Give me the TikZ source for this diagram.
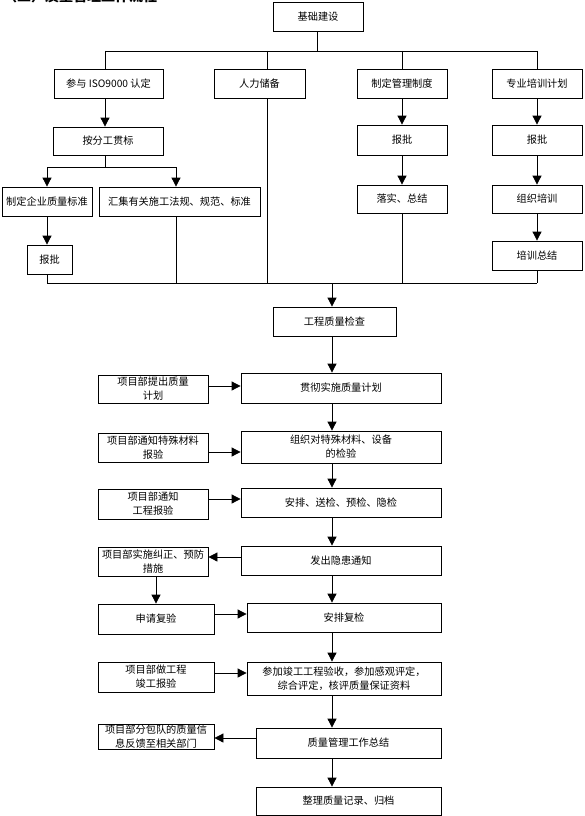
\documentclass[tikz,border=0pt]{standalone}
\usepackage{fontspec}
\newfontfamily\cjk{Noto Sans CJK SC}
\usetikzlibrary{arrows.meta}
\tikzset{
  box/.style={draw, line width=0.8pt, inner sep=0pt, align=center,
    font=\cjk\fontsize{10.2}{14}\selectfont},
  ln/.style={line width=0.8pt},
  arr/.style={line width=0.8pt, -{Triangle[width=9pt,length=9pt]}},
}
\begin{document}
\begin{tikzpicture}[x=1pt,y=-1pt]
\useasboundingbox (0,0) rectangle (585,816);
\fill[white] (0,0) rectangle (585,816);
% header, cut off at the top edge as in the reference
\node[anchor=south west, inner sep=0pt, font=\cjk\bfseries\fontsize{14}{16}\selectfont] (hdr) at (3,3.5) {（二）质量管理工作流程};
% top part
\node[box, minimum width=90, minimum height=29] (top) at (318,16.5) {基础建设};
\node[box, minimum width=109, minimum height=29] (iso) at (108.5,83.5) {参与 ISO9000 认定};
\node[box, minimum width=91, minimum height=29] (rl) at (259.5,83.5) {人力储备};
\node[box, minimum width=90, minimum height=29] (zd) at (402,83.5) {制定管理制度};
\node[box, minimum width=90, minimum height=29] (px) at (537,83.5) {专业培训计划};
\node[box, minimum width=110, minimum height=28] (afg) at (108,141) {按分工贯标};
\node[box, minimum width=90, minimum height=30] (bp2) at (402,140) {报批};
\node[box, minimum width=90, minimum height=30] (bp3) at (537,140) {报批};
\node[box, minimum width=90, minimum height=29] (qb) at (47,201.5) {制定企业质量标准};
\node[box, minimum width=161, minimum height=29] (hj) at (179.5,201.5) {汇集有关施工法规、规范、标准};
\node[box, minimum width=90, minimum height=28] (ls) at (402,199) {落实、总结};
\node[box, minimum width=90, minimum height=28] (zz) at (537,199) {组织培训};
\node[box, minimum width=45, minimum height=29] (bp1) at (49.5,259.5) {报批};
\node[box, minimum width=90, minimum height=29] (pz) at (537,255.5) {培训总结};
% top connectors
\coordinate (t0) at (317,51);
\coordinate (ta) at (105,51);
\coordinate (tb) at (267,51);
\coordinate (tc) at (402,51);
\coordinate (td) at (537,51);
\draw[ln] (top.south -| t0) -- (t0);
\draw[ln] (ta) -- (td);
\draw[ln] (ta) -- (ta |- iso.north);
\draw[ln] (tb) -- (tb |- rl.north);
\draw[ln] (tc) -- (tc |- zd.north);
\draw[ln] (td) -- (td |- px.north);
\draw[arr] (ta |- iso.south) -- (ta |- afg.north);
\draw[arr] (zd.south) -- (bp2.north);
\draw[arr] (bp2.south) -- (ls.north);
\draw[arr] (px.south) -- (bp3.north);
\draw[arr] (bp3.south) -- (zz.north);
\draw[arr] (zz.south) -- (pz.north);
\coordinate (s0) at (105,167);
\coordinate (sa) at (47,167);
\coordinate (sb) at (176,167);
\draw[ln] (ta |- afg.south) -- (s0);
\draw[ln] (sa) -- (sb);
\draw[arr] (sa) -- (sa |- qb.north);
\draw[arr] (sb) -- (sb |- hj.north);
\draw[arr] (sa |- qb.south) -- (sa |- bp1.north);
% collecting line
\coordinate (ba) at (47,283);
\coordinate (bb) at (176,283);
\coordinate (bc) at (267,283);
\coordinate (bd) at (402,283);
\coordinate (be) at (537,283);
\coordinate (bm) at (332,283);
\draw[ln] (ba) -- (be);
\draw[ln] (sa |- bp1.south) -- (ba);
\draw[ln] (sb |- hj.south) -- (bb);
\draw[ln] (tb |- rl.south) -- (bc);
\draw[ln] (ls.south) -- (bd);
\draw[ln] (pz.south) -- (be);
% main column
\node[box, minimum width=123, minimum height=29] (gc) at (334.5,321.5) {工程质量检查};
\node[box, minimum width=200, minimum height=30] (m1) at (341,388) {贯彻实施质量计划};
\node[box, minimum width=200, minimum height=32] (m2) at (341,447) {组织对特殊材料、设备\\的检验};
\node[box, minimum width=200, minimum height=29] (m3) at (341,502.5) {安排、送检、预检、隐检};
\node[box, minimum width=200, minimum height=29] (m4) at (341,560.5) {发出隐患通知};
\node[box, minimum width=194, minimum height=29] (m5) at (344,617.5) {安排复检};
\node[box, minimum width=194, minimum height=33] (m6) at (344,678.5) {参加竣工工程验收，参加感观评定，\\综合评定，核评质量保证资料};
\node[box, minimum width=185, minimum height=30] (m7) at (348.5,743) {质量管理工作总结};
\node[box, minimum width=185, minimum height=28] (m8) at (348.5,801) {整理质量记录、归档};
\draw[arr] (bm) -- (bm |- gc.north);
\draw[arr] (bm |- gc.south) -- (bm |- m1.north);
\draw[arr] (bm |- m1.south) -- (bm |- m2.north);
\draw[arr] (bm |- m2.south) -- (bm |- m3.north);
\draw[arr] (bm |- m3.south) -- (bm |- m4.north);
\draw[arr] (bm |- m4.south) -- (bm |- m5.north);
\draw[arr] (bm |- m5.south) -- (bm |- m6.north);
\draw[arr] (bm |- m6.south) -- (bm |- m7.north);
\draw[arr] (bm |- m7.south) -- (bm |- m8.north);
% left column
\node[box, minimum width=110, minimum height=28] (l1) at (153,389) {项目部提出质量\\计划};
\node[box, minimum width=110, minimum height=29] (l2) at (153,447.5) {项目部通知特殊材料\\报验};
\node[box, minimum width=110, minimum height=30] (l3) at (153,504) {项目部通知\\工程报验};
\node[box, minimum width=110, minimum height=29] (l4) at (153,561.5) {项目部实施纠正、预防\\措施};
\node[box, minimum width=116, minimum height=30] (l5) at (156,619) {申请复验};
\node[box, minimum width=116, minimum height=30] (l6) at (156,677) {项目部做工程\\竣工报验};
\node[box, minimum width=116, minimum height=25] (l7) at (156,736.5) {项目部分包队的质量信\\息反馈至相关部门};
\coordinate (y1) at (0,386);
\coordinate (y2) at (0,452);
\coordinate (y3) at (0,499);
\coordinate (y4) at (0,557);
\coordinate (y5) at (0,614);
\coordinate (y6) at (0,673);
\coordinate (y7) at (0,738);
\draw[arr] (l1.east |- y1) -- (m1.west |- y1);
\draw[arr] (l2.east |- y2) -- (m2.west |- y2);
\draw[arr] (l3.east |- y3) -- (m3.west |- y3);
\draw[arr] (m4.west |- y4) -- (l4.east |- y4);
\draw[arr] (l4.south -| l5.north) -- (l5.north);
\draw[arr] (l5.east |- y5) -- (m5.west |- y5);
\draw[arr] (l6.east |- y6) -- (m6.west |- y6);
\draw[arr] (m7.west |- y7) -- (l7.east |- y7);
\end{tikzpicture}
\end{document}
